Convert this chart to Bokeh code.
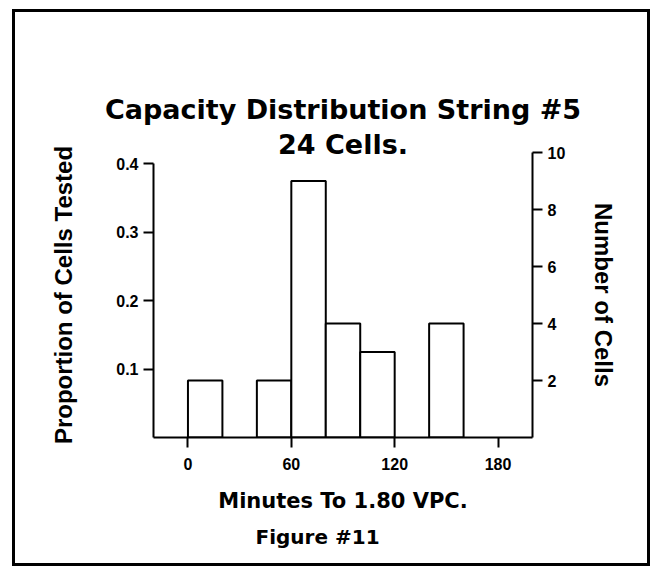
from bokeh.plotting import figure
from bokeh.models import (Range1d, LinearAxis, FixedTicker, ColumnDataSource, Title)
from bokeh.embed import file_html
from bokeh.resources import INLINE

# ---- data ----
bin_left = [0, 40, 60, 80, 100, 140]      # minutes
bin_right = [20, 60, 80, 100, 120, 160]   # minutes
cells = [2, 2, 9, 4, 3, 4]                # number of cells per bin
total_cells = 24
x_ticks = [0, 60, 120, 180]
prop_ticks = [0.1, 0.2, 0.3, 0.4]
cell_ticks = [2, 4, 6, 8, 10]

proportion = [c / total_cells for c in cells]
src = ColumnDataSource(dict(left=bin_left, right=bin_right,
                            top=proportion, bottom=[0] * len(cells)))

W, H = 638, 557
p = figure(width=W, height=H, output_backend="svg", toolbar_location=None,
           x_range=Range1d(-20, 200),
           y_range=Range1d(0, max(cell_ticks) / total_cells),
           min_border_left=138, min_border_right=121,
           min_border_top=140, min_border_bottom=132)
p.styles = {"border": "3px solid black", "margin-left": "12px", "margin-top": "9px"}
p.outline_line_color = None
p.grid.visible = False
p.background_fill_color = "white"
p.border_fill_color = "white"

p.quad(left="left", right="right", top="top", bottom="bottom", source=src,
       fill_color="white", line_color="black", line_width=2)

FONT = "Liberation Sans"

def style_axis(ax):
    ax.axis_line_width = 2
    ax.major_tick_line_width = 2
    ax.major_tick_out = 10
    ax.major_tick_in = 0
    ax.minor_tick_line_color = None
    ax.major_label_text_font = FONT
    ax.major_label_text_font_style = "bold"
    ax.major_label_text_font_size = "16px"
    ax.major_label_text_color = "black"
    ax.axis_label_text_font = FONT
    ax.axis_label_text_font_style = "bold"
    ax.axis_label_text_font_size = "24px"
    ax.axis_label_text_color = "black"

# bottom axis
xa = p.xaxis[0]
style_axis(xa)
xa.ticker = FixedTicker(ticks=x_ticks)
xa.major_label_standoff = 10
xa.axis_label = "Minutes To 1.80 VPC."
xa.axis_label_standoff = 16
xa.axis_label_text_font = "DejaVu Sans"
xa.axis_label_text_font_size = "21px"

# left axis (proportion)
ya = p.yaxis[0]
style_axis(ya)
ya.ticker = FixedTicker(ticks=prop_ticks)
ya.bounds = (0, max(prop_ticks))
ya.axis_label = "Proportion of Cells Tested"
ya.axis_label_standoff = 36

# right axis (number of cells)
p.extra_y_ranges = {"cells": Range1d(0, max(cell_ticks))}
ra = LinearAxis(y_range_name="cells")
style_axis(ra)
ra.ticker = FixedTicker(ticks=cell_ticks)
ra.axis_label = "Number of Cells"
ra.axis_label_standoff = 22
p.add_layout(ra, "right")

# titles
p.add_layout(Title(text="24 Cells.", align="center", text_font="DejaVu Sans",
                   text_color="black", text_font_style="bold",
                   text_font_size="27px", standoff=-14), "above")
p.add_layout(Title(text="Capacity Distribution String #5", align="center",
                   text_font="DejaVu Sans", text_color="black", text_font_style="bold",
                   text_font_size="27px", standoff=18), "above")
p.add_layout(Title(text="Figure #11", align="left", text_font="DejaVu Sans",
                   text_color="black", text_font_style="bold",
                   text_font_size="20px", standoff=14, offset=102), "below")

open("out.html", "w").write(file_html(p, INLINE))
